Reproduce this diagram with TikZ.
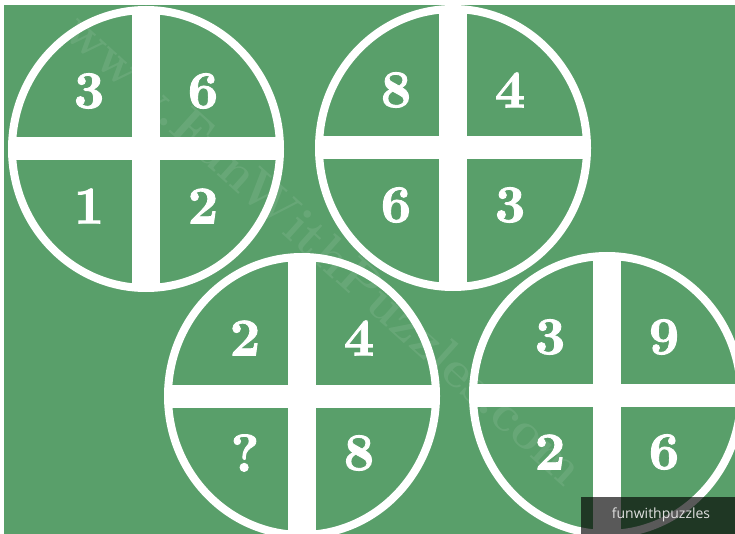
\documentclass[tikz,border=0pt]{standalone}
\usepackage{fontspec}
\newfontfamily\labelfont{Open Sans}
\newfontfamily\digitfont{lmroman10-bold.otf}[FakeBold=1.6]
\definecolor{bg}{RGB}{89,159,106}
\tikzset{
  digit/.style={text=white, inner sep=0pt, font=\digitfont\fontsize{53}{53}\selectfont},
  ring/.style={draw=white, line width=8pt},
  bar/.style={fill=white},
  watermark/.style={text=white, opacity=0.09, inner sep=0pt, font=\fontsize{52}{52}\selectfont\bfseries},
  tagbox/.style={fill=black, opacity=0.65},
  tagtext/.style={text=white!88!black, inner sep=0pt, font=\labelfont\fontsize{14}{14}\selectfont}
}
\newcommand\puzzlewheel[7]{%
  \begin{scope}
    \fill[bg] (#2,#3) ellipse [x radius=134pt, y radius=139pt];
    \clip (#2,#3) ellipse [x radius=134pt, y radius=139pt];
    \fill[bar] (#2-14,#3-150) rectangle (#2+14,#3+150);
    \fill[bar] (#2-150,#3-11.5) rectangle (#2+150,#3+11.5);
  \end{scope}
  \draw[ring] (#2,#3) ellipse [x radius=134pt, y radius=139pt];
  \node[digit] (#1tl) at (#2-57,#3-58) {#4};
  \node[digit] (#1tr) at (#2+57,#3-58) {#5};
  \node[digit] (#1bl) at (#2-57,#3+57) {#6};
  \node[digit] (#1br) at (#2+57,#3+57) {#7};
}
\begin{document}
\begin{tikzpicture}[x=1pt,y=-1pt]
\useasboundingbox (0,0) rectangle (735,534);
\fill[white] (0,0) rectangle (735,534);
\fill[bg] (4,5) rectangle (735,534);
\puzzlewheel{a}{146}{149}{3}{6}{1}{2}
\puzzlewheel{b}{453}{148}{8}{4}{6}{3}
\puzzlewheel{c}{302}{396}{2}{4}{?}{8}
\puzzlewheel{d}{607}{395}{3}{9}{2}{6}
\node[watermark, rotate=-42] (wm) at (325,248) {www.FunWithPuzzles.com};
\fill[tagbox] (581,497) rectangle (735,534);
\node[tagtext] (tag) at (661,515) {funwithpuzzles};
\end{tikzpicture}
\end{document}
